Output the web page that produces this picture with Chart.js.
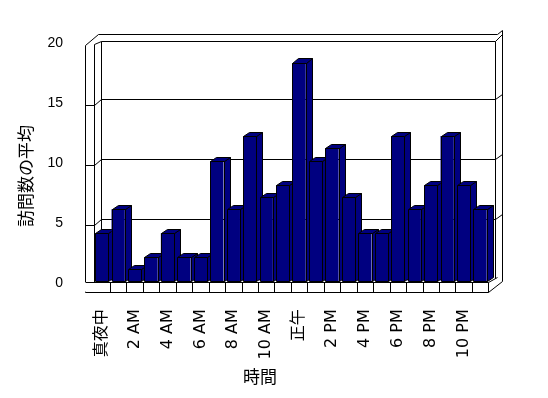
<!DOCTYPE html>
<html><head><meta charset="utf-8">
<script src="https://cdn.jsdelivr.net/npm/chart.js@4/dist/chart.umd.min.js"></script>
<style>html,body{margin:0;padding:0;background:#fff}#wrap{width:548px;height:398px;position:relative}</style>
</head><body><div id="wrap"><canvas id="c" width="548" height="398"></canvas></div>
<script>
const categories = ['真夜中','1 AM','2 AM','3 AM','4 AM','5 AM','6 AM','7 AM','8 AM','9 AM','10 AM','11 AM',
  '正午','1 PM','2 PM','3 PM','4 PM','5 PM','6 PM','7 PM','8 PM','9 PM','10 PM','11 PM'];
const visits = [4, 6, 1, 2, 4, 2, 2, 10, 6, 12.1, 7, 8, 18.2, 10, 11.1, 7, 4, 4, 12.1, 6, 8, 12.1, 8, 6];
const shownLabels = ['真夜中','2 AM','4 AM','6 AM','8 AM','10 AM','正午','2 PM','4 PM','6 PM','8 PM','10 PM'];
const yTicks = [0, 5, 10, 15, 20];
const yTitle = '訪問数の平均';
const xTitle = '時間';

const BAR = '#000080';
const DX = 6, DY = -4.5;
const p = v => Math.round(v) + 0.5;

function line(ctx, pts) {
  ctx.beginPath(); ctx.moveTo(p(pts[0][0]), p(pts[0][1]));
  for (let i = 1; i < pts.length; i++) ctx.lineTo(p(pts[i][0]), p(pts[i][1]));
  ctx.stroke();
}
function poly(ctx, pts) {
  ctx.beginPath(); ctx.moveTo(p(pts[0][0]), p(pts[0][1]));
  pts.slice(1).forEach(q => ctx.lineTo(p(q[0]), p(q[1])));
  ctx.closePath(); ctx.fill(); ctx.stroke();
}

const box3d = {
  id: 'box3d',
  beforeDatasetsDraw(chart) {
    const ctx = chart.ctx, ys = chart.scales.y, a = chart.chartArea;
    const L = a.left, R = a.right;
    const y0 = ys.getPixelForValue(0), y20 = ys.getPixelForValue(20);
    const outerL = L - 8.8, innerL = L, backL = L + 7.2, backR = R + 6.7, outerR = R + 13.4;
    const floorTop = y0 + 0.7, floorBot = y0 + 10.4;
    const topOuter = y20 - 7.3, backTop = y20 - 0.6;
    ctx.save();
    ctx.strokeStyle = '#000'; ctx.lineWidth = 1;
    line(ctx, [[outerL, floorBot], [outerL, y20 + 3.7], [backL - 2.7, topOuter], [outerR - 5, topOuter], [outerR, topOuter - 4.3], [outerR, floorBot - 10.4], [R, floorBot]]);
    line(ctx, [[innerL, floorTop], [innerL, y20 + 3], [backL, backTop]]);
    line(ctx, [[backL, floorTop - 4], [backL, backTop], [backR, backTop], [backR, floorTop - 4]]);
    line(ctx, [[backR, backTop], [outerR, topOuter]]);
    yTicks.forEach(v => {
      if (v === 0 || v === 20) return;
      const gy = ys.getPixelForValue(v) - 2;
      line(ctx, [[outerL, gy + 5.7], [innerL, gy + 5.7], [backL, gy]]);
      line(ctx, [[backL, gy], [backR, gy], [outerR, gy - 5]]);
    });
    ctx.fillStyle = '#fff';
    ctx.fillRect(outerL, floorTop, R - outerL, floorBot - floorTop);
    line(ctx, [[outerL, floorTop], [R, floorTop], [R, floorBot], [outerL, floorBot]]);
    const n = categories.length, pitch = (R - L) / n;
    for (let k = 1; k < n; k++) line(ctx, [[L + k * pitch, floorTop], [L + k * pitch, floorBot]]);
    line(ctx, [[R, floorTop], [outerR - 5, floorTop - 5]]);
    const meta = chart.getDatasetMeta(0);
    ctx.fillStyle = BAR;
    meta.data.forEach(bar => {
      const {x, y, base, width} = bar.getProps(['x', 'y', 'base', 'width'], true);
      const l = x - width / 2, r = x + width / 2;
      poly(ctx, [[r, y], [r + DX, y + DY], [r + DX, base + DY], [r, base]]);
      poly(ctx, [[l, y], [l + DX, y + DY], [r + DX, y + DY], [r, y]]);
    });
    ctx.restore();
  },
  afterDatasetsDraw(chart) {
    const ctx = chart.ctx;
    ctx.save();
    ctx.strokeStyle = '#000'; ctx.lineWidth = 1;
    chart.getDatasetMeta(0).data.forEach(bar => {
      const {x, y, base, width} = bar.getProps(['x', 'y', 'base', 'width'], true);
      const l = x - width / 2, r = x + width / 2;
      line(ctx, [[l, base], [l, y], [r, y], [r, base], [l, base]]);
    });
    ctx.restore();
  },
  afterDraw(chart) {
    const ctx = chart.ctx;
    ctx.save();
    ctx.fillStyle = '#000';
    ctx.font = '17px "Noto Sans CJK JP", sans-serif';
    ctx.textAlign = 'center'; ctx.textBaseline = 'middle';
    ctx.fillText(xTitle, 260, 377);
    ctx.translate(26, 176); ctx.rotate(-Math.PI / 2);
    ctx.fillText(yTitle, 0, 0);
    ctx.restore();
  }
};

new Chart(document.getElementById('c'), {
  type: 'bar',
  data: { labels: categories, datasets: [{ data: visits, backgroundColor: BAR, borderWidth: 0, barPercentage: 0.81, categoryPercentage: 1 }] },
  options: {
    responsive: false, animation: false, devicePixelRatio: 1,
    layout: { padding: { left: 0, top: 41.3, right: 59.7, bottom: 0 } },
    plugins: { legend: { display: false }, tooltip: { enabled: false }, title: { display: false } },
    scales: {
      x: {
        grid: { display: false }, border: { display: false },
        ticks: { autoSkip: false, minRotation: 90, maxRotation: 90, padding: 20, color: '#000',
          font: { family: '"DejaVu Sans", "Noto Sans CJK JP"', size: 16 },
          callback: (v, i) => i % 2 === 0 ? shownLabels[i / 2] : '' },
        afterFit: s => { s.height = 398 - 281.3; }
      },
      y: {
        min: 0, max: 20,
        grid: { display: false }, border: { display: false },
        ticks: { stepSize: 5, padding: 22.5, labelOffset: 2, color: '#000', font: { family: '"Liberation Sans"', size: 14 } },
        afterFit: s => { s.width = 93.5; }
      }
    }
  },
  plugins: [box3d]
});
</script></body></html>
